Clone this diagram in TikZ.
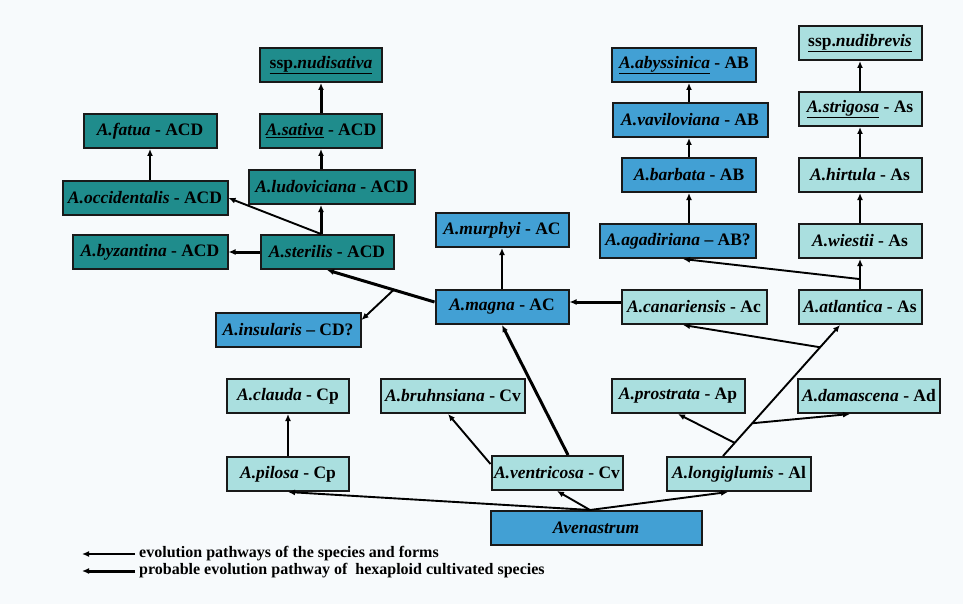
\documentclass[tikz,border=0pt]{standalone}
\usepackage{fontspec}
\setmainfont{Liberation Serif}
\usepackage{tikz}
\usetikzlibrary{arrows.meta,calc}

\definecolor{hexteal}{RGB}{31,140,140}
\definecolor{tetblue}{RGB}{66,160,212}
\definecolor{dipcyan}{RGB}{170,223,223}
\definecolor{paper}{RGB}{247,250,252}

\newcommand{\sname}[2]{\textit{A.#1} - #2}

\begin{document}
\begin{tikzpicture}[x=1pt,y=-1pt,>={Latex[length=7pt,width=6pt]},node distance=66pt,
  every node/.style={align=center},
  sp/.style={draw=black!90,line width=2pt,minimum height=34pt,inner sep=2pt,
    font=\bfseries\fontsize{17.5}{20}\selectfont},
  hexa/.style={sp,fill=hexteal},
  tetra/.style={sp,fill=tetblue},
  dipl/.style={sp,fill=dipcyan},
  evo/.style={->,line width=1.9pt},
  hexevo/.style={->,line width=3pt},
  legend/.style={anchor=west,inner sep=0pt,font=\bfseries\fontsize{16}{18}\selectfont}]
  \useasboundingbox (0,0) rectangle (963,604);
  \fill[paper] (0,0) rectangle (963,604);

  % hexaploids
  \node[hexa,minimum width=122pt] (nudisativa) at (321,65) {\underline{ssp.\textit{nudisativa}}};
  \node[hexa,minimum width=122pt] (sativa) at (321,131) {\underline{\textit{A.sativa}} - ACD};
  \node[hexa,minimum width=166pt] (ludoviciana) at (332,187) {\sname{ludoviciana}{ACD}};
  \node[hexa,minimum width=133pt] (sterilis) at (327,252) {\sname{sterilis}{ACD}};
  \node[hexa,minimum width=133pt] (fatua) at (150,131) {\sname{fatua}{ACD}};
  \node[hexa,minimum width=165pt] (occidentalis) at (145,198) {\sname{occidentalis}{ACD}};
  \node[hexa,minimum width=155pt] (byzantina) at (150,252) {\sname{byzantina}{ACD}};

  % tetraploids
  \node[tetra,minimum width=144pt] (abyssinica) at (684,65) {\underline{\textit{A.abyssinica}} - AB};
  \node[tetra,minimum width=155pt] (vaviloviana) at (690,120) {\sname{vaviloviana}{AB}};
  \node[tetra,minimum width=134pt] (barbata) at (689,175) {\sname{barbata}{AB}};
  \node[tetra,minimum width=156pt] (agadiriana) at (678,241) {\textit{A.agadiriana} -- AB?};
  \node[tetra,minimum width=133pt] (murphyi) at (502,230) {\sname{murphyi}{AC}};
  \node[tetra,minimum width=133pt] (magna) at (502,307) {\sname{magna}{AC}};
  \node[tetra,minimum width=145pt] (insularis) at (288,330) {\textit{A.insularis} -- CD?};
  \node[tetra,minimum width=211pt] (avenastrum) at (596,528) {\textit{Avenastrum}};

  % diploids
  \node[dipl,minimum width=123pt] (atlantica) at (860,307) {\sname{atlantica}{As}};
  \node[dipl,minimum width=123pt] (wiestii) [above of=atlantica] {\sname{wiestii}{As}};
  \node[dipl,minimum width=123pt] (hirtula) [above of=wiestii] {\sname{hirtula}{As}};
  \node[dipl,minimum width=123pt] (strigosa) [above of=hirtula] {\underline{\textit{A.strigosa}} - As};
  \node[dipl,minimum width=123pt] (nudibrevis) [above of=strigosa] {\underline{ssp.\textit{nudibrevis}}};
  \node[dipl,minimum width=145pt] (canariensis) at (694,307) {\sname{canariensis}{Ac}};
  \node[dipl,minimum width=133pt] (prostrata) at (678,396) {\sname{prostrata}{Ap}};
  \node[dipl,minimum width=142pt] (damascena) at (869,396) {\sname{damascena}{Ad}};
  \node[dipl,minimum width=144pt] (longiglumis) at (739,474) {\sname{longiglumis}{Al}};
  \node[dipl,minimum width=122pt] (clauda) at (288,396) {\sname{clauda}{Cp}};
  \node[dipl,minimum width=144pt] (bruhnsiana) at (453,396) {\sname{bruhnsiana}{Cv}};
  \node[dipl,minimum width=122pt] (pilosa) at (288,474) {\sname{pilosa}{Cp}};
  \node[dipl,minimum width=131pt] (ventricosa) at (557,473) {\sname{ventricosa}{Cv}};

  % legend
  \node[legend] (legthin) at (139,554) {evolution pathways of the species and forms};
  \node[legend] (legthick) at (139,571) {probable evolution pathway of \ hexaploid cultivated species};
  \coordinate (legthinend) at (82,554);
  \coordinate (legthickend) at (82,571);

  % pathways
  \coordinate (avtop) at ([xshift=-6pt]avenastrum.north);
  \coordinate (lgtop) at ([xshift=-16pt]longiglumis.north);
  \coordinate (atbot) at ([xshift=-20pt]atlantica.south);
  \coordinate (magwest) at ([yshift=5pt]magna.west);
  \coordinate (insfork) at ($(magwest)!0.38!(sterilis.south)$);
  \coordinate (agafork) at ($(atlantica.north)!0.33!(wiestii.south)$);
  \coordinate (canfork) at ($(lgtop)!0.83!(atbot)$);
  \coordinate (profork) at ($(lgtop)!0.1!(atbot)$);
  \coordinate (damfork) at ($(lgtop)!0.25!(atbot)$);

  \draw[hexevo] (sativa) -- (nudisativa);
  \draw[hexevo] (ludoviciana.north -| sativa) -- (sativa.south);
  \draw[hexevo] (sterilis.north -| sativa) -- (ludoviciana.south -| sativa);
  \draw[hexevo] (sterilis) -- (byzantina);
  \draw[hexevo] (magwest) -- (sterilis.south);
  \draw[hexevo] ([yshift=5pt]canariensis.west) -- ([yshift=5pt]magna.east);
  \draw[hexevo] ([xshift=11pt]ventricosa.north) -- (magna.south);
  \draw[evo] (sterilis.north -| sativa) -- (occidentalis.east);
  \draw[evo] (occidentalis.north -| fatua) -- (fatua);
  \draw[evo] (insfork) -- ([yshift=-8pt]insularis.north east);
  \draw[evo] (magna) -- (murphyi);
  \draw[evo] (agadiriana.north -| barbata) -- (barbata);
  \draw[evo] (barbata) -- (vaviloviana.south -| barbata);
  \draw[evo] (vaviloviana.north -| barbata) -- (abyssinica.south -| barbata);
  \draw[evo] (atlantica) -- (wiestii);
  \draw[evo] (wiestii) -- (hirtula);
  \draw[evo] (hirtula) -- (strigosa);
  \draw[evo] (strigosa) -- (nudibrevis);
  \draw[evo] (agafork) -- ([xshift=5pt]agadiriana.south);
  \draw[evo] (lgtop) -- (atbot);
  \draw[evo] (canfork) -- ([xshift=-11pt]canariensis.south);
  \draw[evo] (profork) -- (prostrata.south);
  \draw[evo] (damfork) -- ([xshift=-19pt]damascena.south);
  \draw[evo] (pilosa) -- (clauda);
  \draw[evo] ([yshift=-9pt]ventricosa.north west) -- ([xshift=-5pt]bruhnsiana.south);
  \draw[evo] (avtop) -- (pilosa.south);
  \draw[evo] (avtop) -- (ventricosa.south);
  \draw[evo] (avtop) -- ([xshift=-11pt]longiglumis.south);
  \draw[evo] ([xshift=-4pt]legthin.west) -- (legthinend);
  \draw[hexevo] ([xshift=-4pt]legthick.west) -- (legthickend);
\end{tikzpicture}
\end{document}
